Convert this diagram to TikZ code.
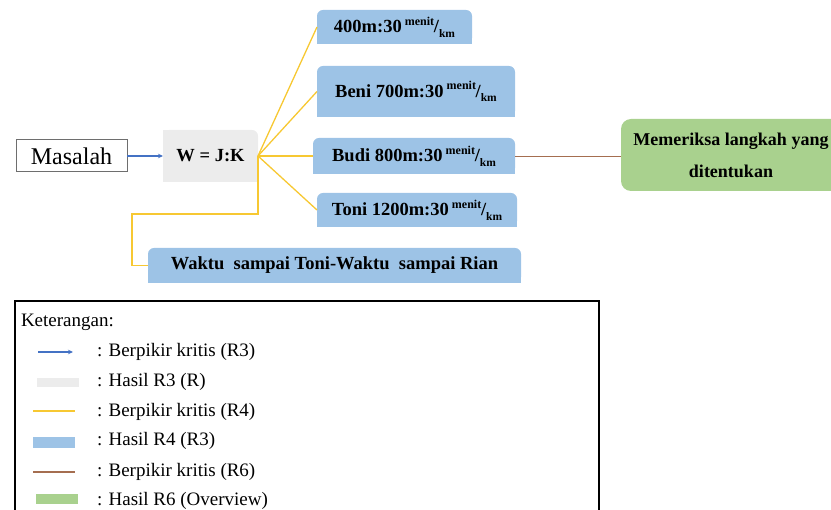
\documentclass[tikz,border=0pt]{standalone}
\usepackage{fontspec}
\setmainfont{Liberation Serif}
\usetikzlibrary{arrows.meta,backgrounds}

\definecolor{boxblue}{RGB}{157,195,230}
\definecolor{boxgray}{RGB}{236,236,236}
\definecolor{boxgreen}{RGB}{169,209,142}
\definecolor{linkyellow}{RGB}{247,200,50}
\definecolor{linkblue}{RGB}{68,114,196}
\definecolor{linkbrown}{RGB}{165,110,80}
\definecolor{framegray}{RGB}{110,110,110}

% "menit/km" written as a raised/lowered pair after a number
\newcommand\perkm{\,\raisebox{0.40em}{\fontsize{12}{12}\selectfont menit}\kern-0.3pt/\raisebox{-0.25em}{\fontsize{11.5}{12}\selectfont km}}

\begin{document}
\begin{tikzpicture}[x=1pt,y=-1pt,
  every node/.style={inner sep=0pt, outer sep=0pt},
  boldtext/.style={font=\fontsize{18.5}{20}\selectfont\bfseries},
  hasilfour/.style={boldtext, fill=boxblue, rounded corners=6pt},
  hasilthree/.style={boldtext, fill=boxgray, rounded corners=6pt},
  hasilsix/.style={boldtext, fill=boxgreen, rounded corners=10pt, align=center,
                   font=\fontsize{18}{32}\selectfont\bfseries},
  r3link/.style={linkblue, line width=1.5pt, -{Stealth[length=5pt,width=4.5pt]}},
  r4link/.style={linkyellow, line width=1.3pt},
  r6link/.style={linkbrown, line width=0.9pt},
  legtext/.style={font=\fontsize{19}{21}\selectfont, anchor=west},
]
\useasboundingbox (0,0) rectangle (831,510);

% problem and first result
\node[draw=framegray, line width=1pt, minimum width=111pt, minimum height=32pt,
      font=\fontsize{24}{26}\selectfont] (masalah) at (71.5,156) {Masalah};
\node[hasilthree, minimum width=95pt, minimum height=52pt] (wjk) at (210.5,156) {W = J:K};

% second-level results
\node[hasilfour, minimum width=155pt, minimum height=34pt] (n400) at (394.5,27) {400m:30\perkm};
\node[hasilfour, minimum width=198pt, minimum height=51pt] (beni) at (416,91.5) {Beni 700m:30\perkm};
\node[hasilfour, minimum width=202pt, minimum height=36pt] (budi) at (414,156) {Budi 800m:30\perkm};
\node[hasilfour, minimum width=200pt, minimum height=34pt] (toni) at (417,210) {Toni 1200m:30\perkm};
\node[hasilfour, minimum width=373pt, minimum height=35pt] (waktu) at (334.5,265.5)
      {Waktu\ \ sampai Toni-Waktu\ \ sampai Rian};

% overview result (runs past the right edge)
\node[hasilsix, minimum width=220pt, minimum height=72pt] (periksa) at (731,155)
      {Memeriksa langkah yang\\ditentukan};

% square off the lower corners of the boxes
\begin{scope}[on background layer]
  \foreach \n in {n400,beni,budi,toni,waktu}
    \fill[boxblue] (\n.south west) rectangle (\n.east);
  \fill[boxgray] (wjk.south west) rectangle (wjk.north);
  \fill[boxgray] (wjk.south west) rectangle (wjk.east);
\end{scope}

% connectors
\draw[r3link] (masalah.east) -- (wjk.west);
\draw[r4link] (wjk.east) -- (n400.west);
\draw[r4link] (wjk.east) -- (beni.west);
\draw[r4link] (wjk.east) -- (budi.west);
\draw[r4link] (wjk.east) -- (toni.west);
\coordinate (elbowR) at (258,214);
\coordinate (elbowL) at (132,214);
\draw[r4link] (wjk.east) -- (elbowR) -- (elbowL) |- (waktu.west);
\draw[r6link] (budi.east) -- (budi.east -| periksa.west);

% legend
\node[draw=black, line width=1.4pt, minimum width=584pt, minimum height=220pt,
      anchor=north west] (legend) at (15,301) {};
\node[legtext] (ket) at (21,322) {Keterangan:};

\coordinate (a1) at (38,352);
\coordinate (a2) at (73,352);
\draw[linkblue, line width=1.3pt, -{Stealth[length=5pt,width=4.5pt]}] (a1) -- (a2);
\node[legtext] (t1) at (97,352) {: Berpikir kritis (R3)};

\node[fill=boxgray, minimum width=42pt, minimum height=9pt] (s2) at (58,383) {};
\node[legtext] (t2) at (97,382) {: Hasil R3 (R)};

\coordinate (y1) at (33,411);
\coordinate (y2) at (75,411);
\draw[linkyellow, line width=1.2pt] (y1) -- (y2);
\node[legtext] (t3) at (97,412) {: Berpikir kritis (R4)};

\node[fill=boxblue, minimum width=42pt, minimum height=11pt] (s4) at (54,443) {};
\node[legtext] (t4) at (97,441) {: Hasil R4 (R3)};

\coordinate (b1) at (33,472);
\coordinate (b2) at (75,472);
\draw[linkbrown, line width=1.2pt] (b1) -- (b2);
\node[legtext] (t5) at (97,472) {: Berpikir kritis (R6)};

\node[fill=boxgreen, minimum width=42pt, minimum height=10pt] (s6) at (57,499) {};
\node[legtext] (t6) at (97,501) {: Hasil R6 (Overview)};
\end{tikzpicture}
\end{document}
